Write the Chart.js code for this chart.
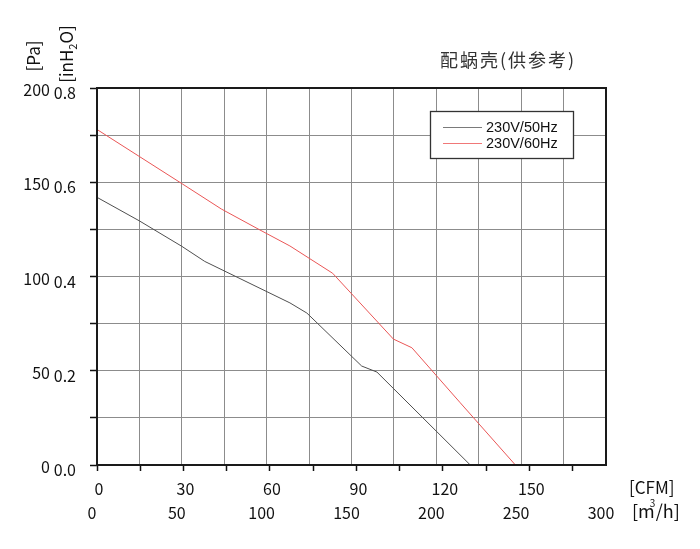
<!DOCTYPE html>
<html><head><meta charset="utf-8">
<script src="https://cdn.jsdelivr.net/npm/chart.js@4.4.1/dist/chart.umd.min.js"></script>
<style>html,body{margin:0;padding:0;background:#fff;}#wrap{width:700px;height:549px;}</style>
</head><body><div id="wrap"><canvas id="c" width="700" height="549"></canvas></div>
<script>
// ---- data ----
const chartTitle = '配蜗壳(供参考)';
const seriesLabels = ['230V/50Hz', '230V/60Hz'];
// flow in m3/h, pressure in Pa
const flow50 = [0, 25, 50, 63.5, 113.7, 123.7, 156, 165, 220];
const pa50   = [142, 129.5, 116, 108, 86, 80.6, 52.5, 49.3, 0];
const flow60 = [0, 50.5, 73.3, 96, 113.7, 138.9, 174.7, 185.6, 214.1, 246.6];
const pa60   = [178, 149, 135.8, 124.7, 116.2, 101.7, 66.8, 62.2, 33, 0];
const cfmTickLabels = [0, 30, 60, 90, 120, 150];
const m3hTickLabels = [0, 50, 100, 150, 200, 250, 300];
const paTickLabels = [0, 50, 100, 150, 200];
const inh2oTickLabels = [0.0, 0.2, 0.4, 0.6, 0.8];
const M3H_PER_CFM = 1.699;
const X_MAX_M3H = 300;
const Y_MAX_PA = 200;
const Y_MAX_INH2O = 0.8;

const tickFont = {family: "'Noto Sans CJK SC','Noto Sans',sans-serif", size: 16};
const near = (a, b) => Math.abs(a - b) < 1e-6;

const decor = {
  id: 'decor',
  afterDraw(chart) {
    const ctx = chart.ctx, a = chart.chartArea;
    ctx.save();
    // frame
    ctx.strokeStyle = '#1a1a1a'; ctx.lineWidth = 2;
    ctx.strokeRect(a.left, a.top, a.right - a.left, a.bottom - a.top);
    // title
    ctx.fillStyle = '#333';
    ctx.font = "18px 'Noto Sans CJK SC'";
    ctx.textBaseline = 'middle'; ctx.textAlign = 'left';
    if ('letterSpacing' in ctx) ctx.letterSpacing = '2px';
    ctx.fillText(chartTitle, 440, 60);
    if ('letterSpacing' in ctx) ctx.letterSpacing = '0px';
    // legend
    ctx.fillStyle = '#fff';
    ctx.fillRect(430, 111, 143, 47);
    ctx.strokeStyle = '#333'; ctx.lineWidth = 1.3;
    ctx.strokeRect(430.5, 111.5, 143, 47);
    const ly = [127, 143];
    chart.data.datasets.forEach((ds, i) => {
      ctx.strokeStyle = ds.legendColor; ctx.lineWidth = 1;
      ctx.beginPath(); ctx.moveTo(443, ly[i] + 0.5); ctx.lineTo(482, ly[i] + 0.5); ctx.stroke();
      ctx.fillStyle = '#111';
      ctx.font = "14.5px 'Liberation Sans'";
      ctx.textAlign = 'left'; ctx.textBaseline = 'middle';
      ctx.fillText(ds.label, 486, ly[i] + 1);
    });
    // unit labels
    ctx.fillStyle = '#111';
    ctx.font = "17px 'Noto Sans CJK SC'";
    ctx.textAlign = 'left'; ctx.textBaseline = 'middle';
    ctx.fillText('[CFM]', 629, 488);
    ctx.font = "18px 'Noto Sans CJK SC'";
    let x = 632;
    ctx.fillText('[m', x, 511); x += ctx.measureText('[m').width;
    ctx.font = "10px 'Noto Sans CJK SC'";
    ctx.fillText('3', x - 5, 503);
    ctx.font = "18px 'Noto Sans CJK SC'";
    ctx.fillText('/h]', x + 1, 511);
    // rotated y unit labels
    ctx.font = "17px 'Noto Sans CJK SC'";
    ctx.save();
    ctx.translate(34, 56); ctx.rotate(-Math.PI / 2);
    ctx.textAlign = 'center';
    ctx.fillText('[Pa]', 0, 0);
    ctx.restore();
    ctx.save();
    ctx.translate(67, 54); ctx.rotate(-Math.PI / 2);
    ctx.textAlign = 'left';
    const p1 = '[inH', p3 = 'O]';
    ctx.font = "17px 'Noto Sans CJK SC'";
    const w1 = ctx.measureText(p1).width, w3 = ctx.measureText(p3).width;
    ctx.font = "11px 'Noto Sans CJK SC'";
    const w2 = ctx.measureText('2').width;
    let sx = -(w1 + w2 + w3) / 2;
    ctx.font = "17px 'Noto Sans CJK SC'";
    ctx.fillText(p1, sx, 0); sx += w1;
    ctx.font = "11px 'Noto Sans CJK SC'";
    ctx.fillText('2', sx, 6); sx += w2;
    ctx.font = "17px 'Noto Sans CJK SC'";
    ctx.fillText(p3, sx, 0);
    ctx.restore();
    ctx.restore();
  }
};

new Chart(document.getElementById('c'), {
  type: 'line',
  data: {
    datasets: [
      {label: seriesLabels[0], data: flow50.map((f, i) => ({x: f, y: pa50[i]})),
       borderColor: '#4f4f4f', legendColor: '#7a7a7a', borderWidth: 1, pointRadius: 0, tension: 0,
       xAxisID: 'x', yAxisID: 'y'},
      {label: seriesLabels[1], data: flow60.map((f, i) => ({x: f, y: pa60[i]})),
       borderColor: '#ea5656', legendColor: '#f07878', borderWidth: 1, pointRadius: 0, tension: 0,
       xAxisID: 'x', yAxisID: 'y'}
    ]
  },
  options: {
    responsive: false, animation: false,
    layout: {padding: {left: 0, top: 88, right: 94, bottom: 21}},
    plugins: {legend: {display: false}, tooltip: {enabled: false}, title: {display: false}},
    scales: {
      x: {
        type: 'linear', position: 'bottom', weight: 1, min: 0, max: X_MAX_M3H,
        grid: {display: true, drawOnChartArea: true, drawTicks: false, color: '#8c8c8c', lineWidth: 1},
        border: {display: false},
        ticks: {stepSize: 25, includeBounds: false, autoSkip: false, maxRotation: 0, padding: 5, labelOffset: -5,
                font: tickFont, color: '#111',
                callback: v => m3hTickLabels.some(t => near(t, v)) ? String(v) : ''},
        afterFit: s => { s.height = 30; }
      },
      xCfm: {
        type: 'linear', position: 'bottom', weight: 0, min: 0, max: X_MAX_M3H / M3H_PER_CFM,
        grid: {display: true, drawOnChartArea: false, drawTicks: true, tickLength: 6, tickColor: '#111', tickWidth: 1.5},
        border: {display: false},
        ticks: {stepSize: 15, includeBounds: false, autoSkip: false, maxRotation: 0, padding: 8, labelOffset: 2,
                font: tickFont, color: '#111',
                callback: v => cfmTickLabels.some(t => near(t, v)) ? String(v) : ''},
        afterFit: s => { s.height = 33; }
      },
      y: {
        type: 'linear', position: 'left', weight: 1, min: 0, max: Y_MAX_PA,
        grid: {display: false, drawTicks: false},
        border: {display: false},
        ticks: {stepSize: 50, includeBounds: false, padding: 3, labelOffset: 2, font: tickFont, color: '#111',
                callback: v => paTickLabels.some(t => near(t, v)) ? String(v) : ''},
        afterFit: s => { s.width = 53; }
      },
      yIn: {
        type: 'linear', position: 'left', weight: 0, min: 0, max: Y_MAX_INH2O,
        grid: {display: true, drawOnChartArea: true, drawTicks: true, tickLength: 7, color: '#8c8c8c', tickColor: '#111', tickWidth: 1.5},
        border: {display: false},
        ticks: {stepSize: 0.1, includeBounds: false, padding: 14, labelOffset: 5, font: tickFont, color: '#111',
                callback: v => { const t = inh2oTickLabels.find(t => near(t, v)); return t === undefined ? '' : t.toFixed(1); }},
        afterFit: s => { s.width = 44; }
      }
    }
  },
  plugins: [decor]
});
</script>
</body></html>
